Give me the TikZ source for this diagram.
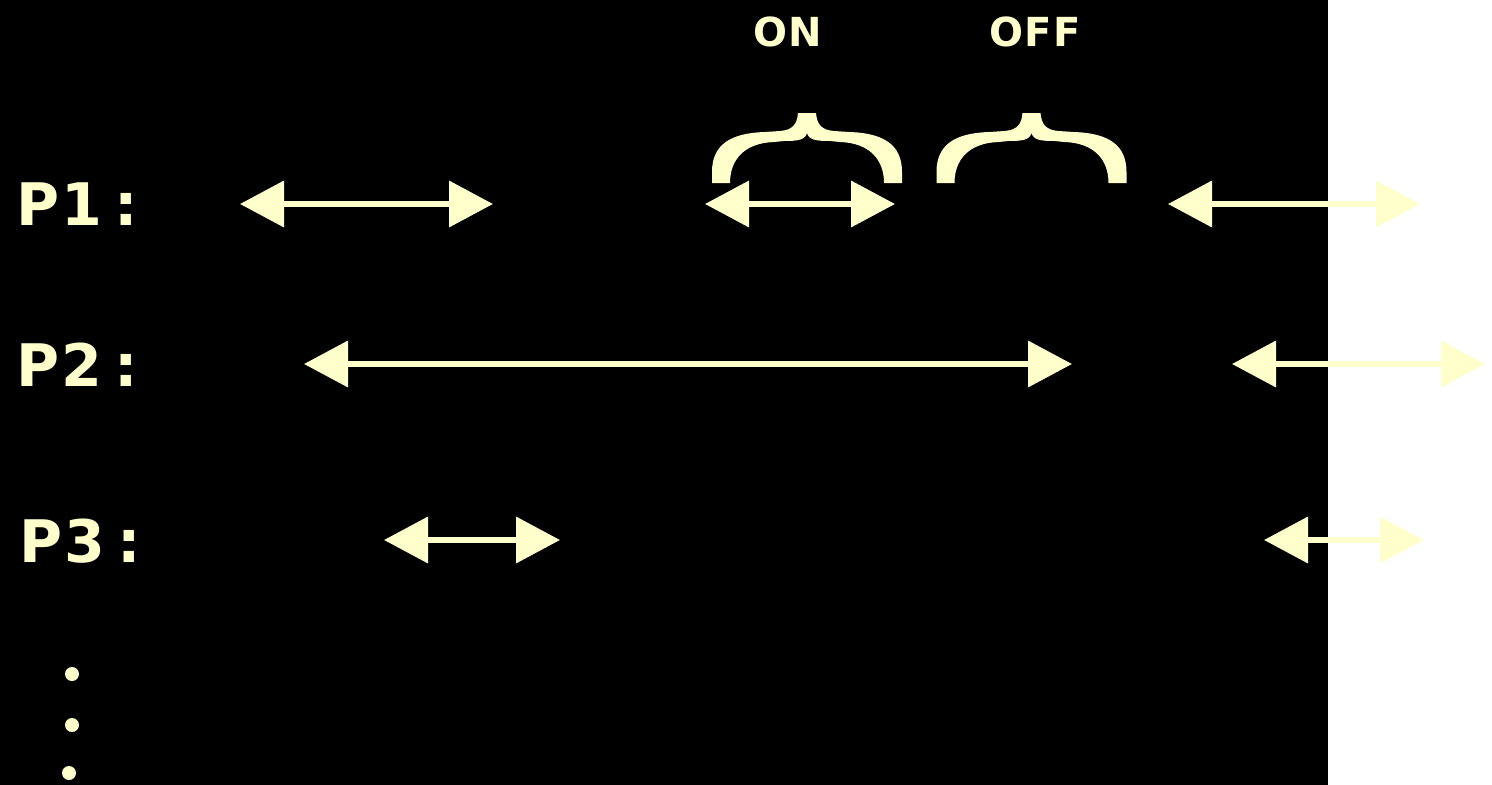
\documentclass[tikz,border=0pt]{standalone}
\usepackage{fontspec}
\setmainfont{DejaVu Sans}
\usetikzlibrary{arrows.meta}
\definecolor{pale}{HTML}{FFFFCC}
\tikzset{
  arr/.style={draw=pale, line width=4.5pt,
    {Triangle[length=33pt,width=34pt,fill=pale]}-{Triangle[length=33pt,width=34pt,fill=pale]}},
  plabel/.style={text=pale, inner sep=0pt, anchor=base west, font=\bfseries\fontsize{44}{50}\selectfont},
  slabel/.style={text=pale, inner sep=0pt, anchor=base, font=\bfseries\fontsize{30}{36}\selectfont},
  bracefill/.style={fill=pale, draw=none},
  dotfill/.style={fill=pale, draw=none}
}
\newcommand{\plab}[1]{P\kern2pt#1\kern9pt:}
\begin{document}
\begin{tikzpicture}[x=0.75pt, y=-0.75pt]
\useasboundingbox (0,0) rectangle (1492,785);
\fill[white] (0,0) rectangle (1492,785);
\fill[black] (0,0) rectangle (1328,785);

% labels
\node[plabel] (p1) at (16,225) {\plab{1}};
\node[plabel] (p2) at (16,386) {\plab{2}};
\node[plabel] (p3) at (19,562) {\plab{3}};
\node[slabel] (on) at (788,46) {O\kern1ptN};
\node[slabel] (off) at (1035,46) {O\kern1ptF\kern1ptF};

% braces
\foreach \dx in {0,224.5}{
\begin{scope}[xshift=\dx*0.75pt]
\fill[bracefill] (712,183) -- (712,172) .. controls (712,145) and (730,133) .. (765,132)
  -- (780,131) .. controls (793,130) and (797,124) .. (798,113) -- (816,113)
  .. controls (817,124) and (821,130) .. (834,131) -- (849,132)
  .. controls (884,133) and (902,145) .. (902,172) -- (902,183) -- (884,183)
  .. controls (884,160) and (870,143) .. (840,142) -- (830,141)
  .. controls (816,141) and (809,140) .. (807,133)
  .. controls (805,140) and (798,141) .. (784,141) -- (774,142)
  .. controls (744,143) and (730,160) .. (730,183) -- cycle;
\end{scope}
}

% arrow end points
\coordinate (a1l) at (240,204);  \coordinate (a1r) at (493,204);
\coordinate (b1l) at (705,204);  \coordinate (b1r) at (895,204);
\coordinate (c1l) at (1168,204); \coordinate (c1r) at (1420,204);
\coordinate (a2l) at (304,364);  \coordinate (a2r) at (1072,364);
\coordinate (b2l) at (1232,364); \coordinate (b2r) at (1485,364);
\coordinate (a3l) at (384,540);  \coordinate (a3r) at (560,540);
\coordinate (b3l) at (1264,540); \coordinate (b3r) at (1424,540);

\draw[arr] (a1l) -- (a1r);
\draw[arr] (b1l) -- (b1r);
\draw[arr] (c1l) -- (c1r);
\draw[arr] (a2l) -- (a2r);
\draw[arr] (b2l) -- (b2r);
\draw[arr] (a3l) -- (a3r);
\draw[arr] (b3l) -- (b3r);

% dots
\fill[dotfill] (72,674) circle[radius=5.25pt];
\fill[dotfill] (72,725) circle[radius=5.25pt];
\fill[dotfill] (69,773) circle[radius=5.25pt];
\end{tikzpicture}
\end{document}
